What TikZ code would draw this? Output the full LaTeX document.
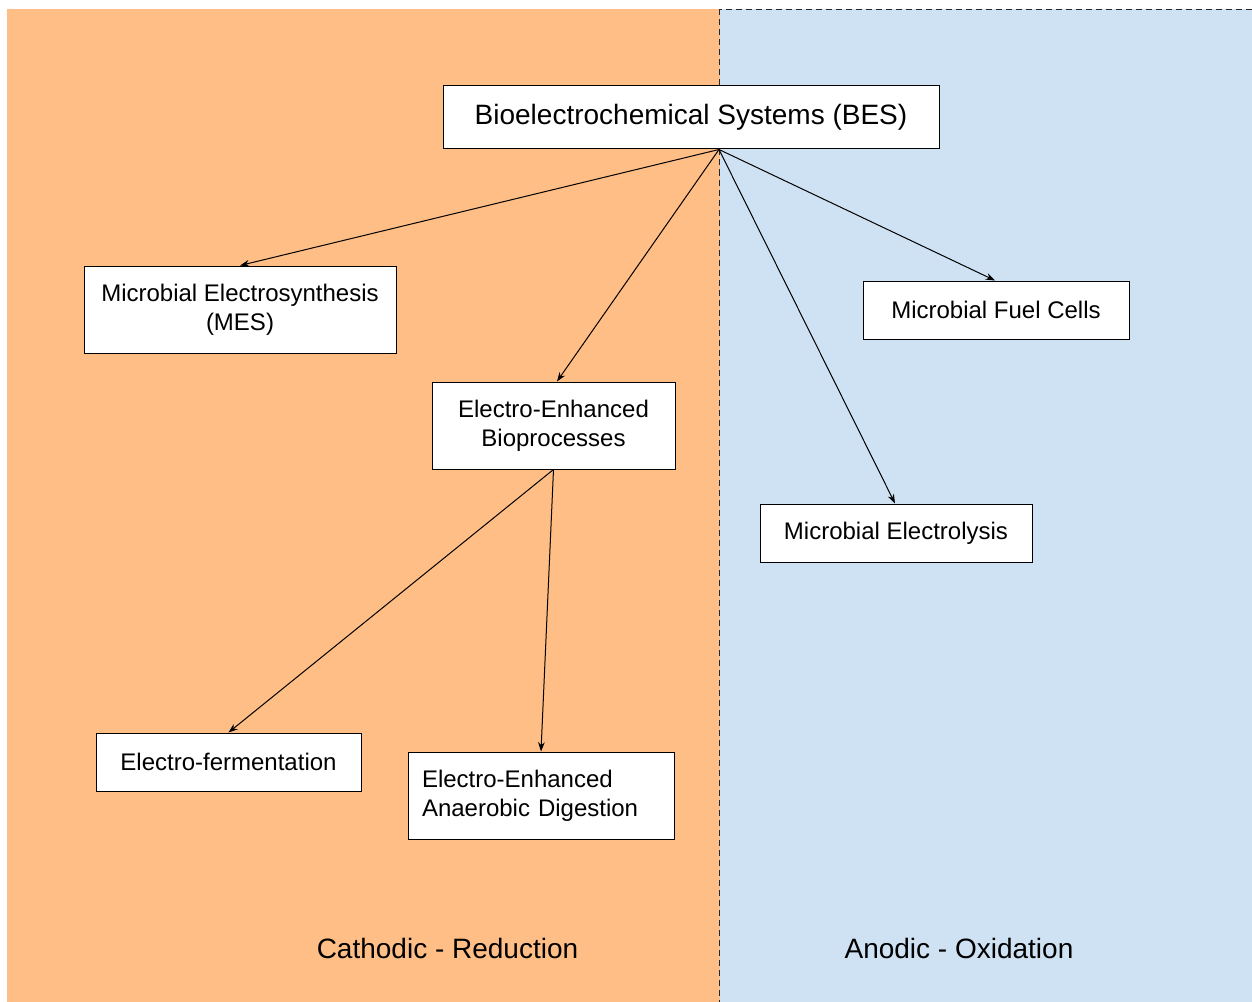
\documentclass[tikz,border=0pt]{standalone}
\usepackage{fontspec}
\setmainfont{Liberation Sans}
\usetikzlibrary{arrows.meta}
\definecolor{cathode}{RGB}{255,190,133}
\definecolor{anode}{RGB}{207,226,243}
\definecolor{dashgray}{RGB}{40,40,40}
\tikzset{
  box/.style={draw=black, line width=0.75pt, fill=white, inner sep=0pt, align=center,
    font=\fontsize{18pt}{21.6pt}\selectfont},
  link/.style={draw=black, line width=0.75pt, -{Stealth[length=7pt,width=5pt]}},
  zonelabel/.style={font=\fontsize{21pt}{25pt}\selectfont, inner sep=0pt}
}
\begin{document}
\begin{tikzpicture}[x=0.75pt,y=-0.75pt]
\useasboundingbox (0,0) rectangle (1252,1002);
\clip (0,0) rectangle (1252,1002);
% zones
\fill[cathode] (7,9) rectangle (719.5,1010);
\draw[fill=anode, draw=dashgray, line width=0.9pt, dash pattern=on 4.5pt off 3pt] (719.5,9.5) rectangle (1270,1020);
% nodes
\node[box, minimum width=372pt, minimum height=47.25pt, font=\fontsize{21pt}{25pt}\selectfont] (bes) at (691,117.5) {Bioelectrochemical Systems (BES)};
\node[box, minimum width=234pt, minimum height=65.25pt] (mes) at (240,309.5) {Microbial Electrosynthesis\\(MES)};
\node[box, minimum width=182.25pt, minimum height=65.25pt] (eeb) at (553.5,425.5) {Electro-Enhanced\\Bioprocesses};
\node[box, minimum width=199.5pt, minimum height=43.5pt] (mfc) at (996,310) {Microbial Fuel Cells};
\node[box, minimum width=204pt, minimum height=43.5pt] (me) at (896,533) {Microbial Electrolysis};
\node[box, minimum width=198.75pt, minimum height=43.5pt] (ef) at (228.5,762) {Electro-fermentation};
\node[box, minimum height=65.25pt, text width=178.5pt, inner xsep=10.5pt, align=left] (eead) at (541,795.5) {Electro-Enhanced\\Anaerobic Digestion};
% zone labels
\node[zonelabel] (cat) at (447.5,948) {Cathodic - Reduction};
\node[zonelabel] (ano) at (959,948) {Anodic - Oxidation};
% connectors
\coordinate (src) at ([xshift=21pt]bes.south);
\draw[link] (src) -- (mes.north);
\draw[link] (src) -- ([xshift=2.6pt]eeb.north);
\draw[link] (src) -- ([xshift=-0.75pt]mfc.north);
\draw[link] (src) -- ([xshift=-0.75pt]me.north);
\draw[link] (eeb.south) -- (ef.north);
\draw[link] (eeb.south) -- (eead.north);
\end{tikzpicture}
\end{document}
